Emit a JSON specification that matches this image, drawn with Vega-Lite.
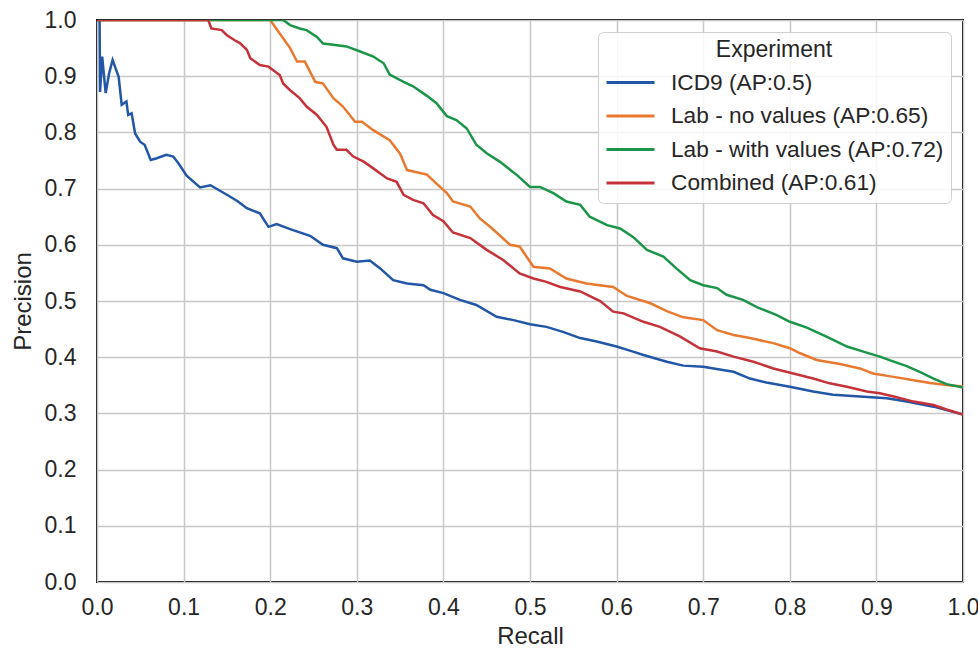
{
  "$schema": "https://vega.github.io/schema/vega-lite/v6.json",
  "width": 866,
  "height": 562,
  "autosize": {"type": "none"},
  "padding": {"left": 97, "top": 20, "right": 15, "bottom": 71},
  "background": "white",
  "config": {
    "font": "Liberation Sans",
    "view": {"stroke": "black", "strokeWidth": 2},
    "axis": {
      "domain": false,
      "ticks": false,
      "grid": true,
      "gridColor": "#c8c8c8",
      "gridWidth": 1.5,
      "labelFont": "Liberation Sans",
      "labelFontSize": 23,
      "labelColor": "#262626",
      "titleFont": "Liberation Sans",
      "titleFontSize": 24,
      "titleFontWeight": "normal",
      "titleColor": "#262626"
    }
  },
  "datasets": {
    "blue": [
      {"r":0,"p":1.0},{"r":0.003,"p":1.0},{"r":0.0035,"p":0.872},{"r":0.006,"p":0.935},{"r":0.010,"p":0.87},{"r":0.014,"p":0.905},{"r":0.018,"p":0.929},{"r":0.025,"p":0.899},{"r":0.0285,"p":0.849},{"r":0.034,"p":0.855},{"r":0.036,"p":0.831},{"r":0.040,"p":0.834},{"r":0.044,"p":0.798},{"r":0.050,"p":0.783},{"r":0.055,"p":0.778},{"r":0.062,"p":0.751},{"r":0.069,"p":0.754},{"r":0.080,"p":0.760},{"r":0.088,"p":0.757},{"r":0.094,"p":0.745},{"r":0.1035,"p":0.723},{"r":0.119,"p":0.702},{"r":0.131,"p":0.706},{"r":0.150,"p":0.689},{"r":0.162,"p":0.678},{"r":0.173,"p":0.665},{"r":0.188,"p":0.656},{"r":0.198,"p":0.632},{"r":0.2075,"p":0.637},{"r":0.223,"p":0.628},{"r":0.246,"p":0.616},{"r":0.261,"p":0.600},{"r":0.277,"p":0.594},{"r":0.284,"p":0.576},{"r":0.300,"p":0.570},{"r":0.315,"p":0.572},{"r":0.327,"p":0.558},{"r":0.342,"p":0.537},{"r":0.358,"p":0.531},{"r":0.377,"p":0.528},{"r":0.385,"p":0.520},{"r":0.400,"p":0.514},{"r":0.419,"p":0.502},{"r":0.438,"p":0.493},{"r":0.4615,"p":0.472},{"r":0.481,"p":0.466},{"r":0.500,"p":0.4585},{"r":0.519,"p":0.454},{"r":0.538,"p":0.445},{"r":0.558,"p":0.434},{"r":0.577,"p":0.428},{"r":0.600,"p":0.419},{"r":0.619,"p":0.410},{"r":0.631,"p":0.404},{"r":0.658,"p":0.392},{"r":0.677,"p":0.385},{"r":0.700,"p":0.383},{"r":0.719,"p":0.378},{"r":0.735,"p":0.374},{"r":0.754,"p":0.362},{"r":0.773,"p":0.355},{"r":0.800,"p":0.3475},{"r":0.827,"p":0.339},{"r":0.850,"p":0.333},{"r":0.881,"p":0.330},{"r":0.912,"p":0.327},{"r":0.935,"p":0.321},{"r":0.966,"p":0.312},{"r":1.0,"p":0.298}
    ],
    "orange": [
      {"r":0,"p":1},{"r":0.2,"p":1},{"r":0.211,"p":0.976},{"r":0.223,"p":0.950},{"r":0.231,"p":0.926},{"r":0.240,"p":0.926},{"r":0.252,"p":0.890},{"r":0.261,"p":0.887},{"r":0.273,"p":0.861},{"r":0.284,"p":0.846},{"r":0.298,"p":0.819},{"r":0.306,"p":0.819},{"r":0.319,"p":0.804},{"r":0.338,"p":0.786},{"r":0.350,"p":0.762},{"r":0.358,"p":0.733},{"r":0.381,"p":0.725},{"r":0.392,"p":0.709},{"r":0.404,"p":0.692},{"r":0.411,"p":0.677},{"r":0.431,"p":0.668},{"r":0.442,"p":0.647},{"r":0.454,"p":0.632},{"r":0.477,"p":0.600},{"r":0.488,"p":0.597},{"r":0.504,"p":0.561},{"r":0.523,"p":0.558},{"r":0.542,"p":0.540},{"r":0.565,"p":0.531},{"r":0.596,"p":0.525},{"r":0.612,"p":0.509},{"r":0.639,"p":0.496},{"r":0.658,"p":0.482},{"r":0.677,"p":0.471},{"r":0.700,"p":0.466},{"r":0.716,"p":0.448},{"r":0.735,"p":0.4395},{"r":0.754,"p":0.434},{"r":0.781,"p":0.425},{"r":0.800,"p":0.416},{"r":0.812,"p":0.407},{"r":0.831,"p":0.395},{"r":0.858,"p":0.388},{"r":0.881,"p":0.380},{"r":0.896,"p":0.371},{"r":0.920,"p":0.365},{"r":0.943,"p":0.359},{"r":0.962,"p":0.354},{"r":0.981,"p":0.3505},{"r":1.0,"p":0.348}
    ],
    "green": [
      {"r":0,"p":1},{"r":0.215,"p":1},{"r":0.223,"p":0.991},{"r":0.234,"p":0.985},{"r":0.242,"p":0.982},{"r":0.254,"p":0.970},{"r":0.261,"p":0.958},{"r":0.273,"p":0.956},{"r":0.288,"p":0.953},{"r":0.304,"p":0.944},{"r":0.319,"p":0.935},{"r":0.331,"p":0.923},{"r":0.338,"p":0.903},{"r":0.354,"p":0.890},{"r":0.365,"p":0.882},{"r":0.381,"p":0.865},{"r":0.392,"p":0.852},{"r":0.404,"p":0.829},{"r":0.415,"p":0.822},{"r":0.427,"p":0.807},{"r":0.438,"p":0.778},{"r":0.450,"p":0.763},{"r":0.465,"p":0.748},{"r":0.485,"p":0.724},{"r":0.500,"p":0.703},{"r":0.5115,"p":0.703},{"r":0.527,"p":0.692},{"r":0.542,"p":0.677},{"r":0.558,"p":0.671},{"r":0.569,"p":0.650},{"r":0.589,"p":0.635},{"r":0.604,"p":0.629},{"r":0.619,"p":0.614},{"r":0.635,"p":0.591},{"r":0.654,"p":0.579},{"r":0.669,"p":0.558},{"r":0.685,"p":0.537},{"r":0.700,"p":0.528},{"r":0.716,"p":0.523},{"r":0.727,"p":0.511},{"r":0.746,"p":0.502},{"r":0.762,"p":0.489},{"r":0.785,"p":0.475},{"r":0.800,"p":0.463},{"r":0.819,"p":0.453},{"r":0.843,"p":0.436},{"r":0.866,"p":0.419},{"r":0.885,"p":0.410},{"r":0.904,"p":0.401},{"r":0.920,"p":0.392},{"r":0.935,"p":0.384},{"r":0.950,"p":0.374},{"r":0.966,"p":0.362},{"r":0.981,"p":0.352},{"r":1.0,"p":0.346}
    ],
    "red": [
      {"r":0,"p":1},{"r":0.1285,"p":1},{"r":0.132,"p":0.985},{"r":0.144,"p":0.982},{"r":0.150,"p":0.973},{"r":0.159,"p":0.964},{"r":0.165,"p":0.959},{"r":0.173,"p":0.947},{"r":0.177,"p":0.932},{"r":0.188,"p":0.920},{"r":0.198,"p":0.917},{"r":0.211,"p":0.902},{"r":0.215,"p":0.887},{"r":0.223,"p":0.875},{"r":0.234,"p":0.861},{"r":0.242,"p":0.846},{"r":0.254,"p":0.831},{"r":0.265,"p":0.810},{"r":0.273,"p":0.778},{"r":0.277,"p":0.769},{"r":0.288,"p":0.769},{"r":0.296,"p":0.757},{"r":0.308,"p":0.748},{"r":0.319,"p":0.736},{"r":0.335,"p":0.718},{"r":0.346,"p":0.712},{"r":0.354,"p":0.689},{"r":0.365,"p":0.680},{"r":0.377,"p":0.674},{"r":0.388,"p":0.653},{"r":0.400,"p":0.642},{"r":0.411,"p":0.622},{"r":0.431,"p":0.612},{"r":0.450,"p":0.591},{"r":0.469,"p":0.573},{"r":0.488,"p":0.549},{"r":0.504,"p":0.540},{"r":0.519,"p":0.534},{"r":0.535,"p":0.525},{"r":0.558,"p":0.517},{"r":0.581,"p":0.500},{"r":0.596,"p":0.481},{"r":0.608,"p":0.478},{"r":0.631,"p":0.463},{"r":0.650,"p":0.454},{"r":0.673,"p":0.437},{"r":0.696,"p":0.416},{"r":0.716,"p":0.410},{"r":0.735,"p":0.401},{"r":0.758,"p":0.392},{"r":0.781,"p":0.380},{"r":0.804,"p":0.371},{"r":0.827,"p":0.362},{"r":0.846,"p":0.3535},{"r":0.866,"p":0.3475},{"r":0.889,"p":0.339},{"r":0.904,"p":0.336},{"r":0.920,"p":0.330},{"r":0.943,"p":0.321},{"r":0.966,"p":0.315},{"r":0.981,"p":0.307},{"r":1.0,"p":0.298}
    ]
  },
  "layer": [
    {
      "data": {"name": "blue"},
      "transform": [{"calculate": "'ICD9 (AP:0.5)'", "as": "Experiment"}],
      "mark": {"type": "line", "strokeWidth": 2.5, "clip": true},
      "encoding": {
        "x": {"field": "r", "type": "quantitative"},
        "y": {"field": "p", "type": "quantitative"},
        "color": {"field": "Experiment", "type": "nominal"}
      }
    },
    {
      "data": {"name": "orange"},
      "transform": [{"calculate": "'Lab - no values (AP:0.65)'", "as": "Experiment"}],
      "mark": {"type": "line", "strokeWidth": 2.5, "clip": true},
      "encoding": {
        "x": {"field": "r", "type": "quantitative"},
        "y": {"field": "p", "type": "quantitative"},
        "color": {"field": "Experiment", "type": "nominal"}
      }
    },
    {
      "data": {"name": "green"},
      "transform": [{"calculate": "'Lab - with values (AP:0.72)'", "as": "Experiment"}],
      "mark": {"type": "line", "strokeWidth": 2.5, "clip": true},
      "encoding": {
        "x": {"field": "r", "type": "quantitative"},
        "y": {"field": "p", "type": "quantitative"},
        "color": {"field": "Experiment", "type": "nominal"}
      }
    },
    {
      "data": {"name": "red"},
      "transform": [{"calculate": "'Combined (AP:0.61)'", "as": "Experiment"}],
      "mark": {"type": "line", "strokeWidth": 2.5, "clip": true},
      "encoding": {
        "x": {"field": "r", "type": "quantitative", "title": "Recall",
              "scale": {"domain": [0, 1], "nice": false, "zero": false},
              "axis": {"values": [0,0.1,0.2,0.3,0.4,0.5,0.6,0.7,0.8,0.9,1.0], "format": ".1f", "labelPadding": 14, "titlePadding": 5, "labelFlush": false}},
        "y": {"field": "p", "type": "quantitative", "title": "Precision",
              "scale": {"domain": [0, 1], "nice": false, "zero": false},
              "axis": {"values": [0,0.1,0.2,0.3,0.4,0.5,0.6,0.7,0.8,0.9,1.0], "format": ".1f", "labelPadding": 21, "titlePadding": 9, "labelFlush": false}},
        "color": {"field": "Experiment", "type": "nominal",
          "scale": {"domain": ["ICD9 (AP:0.5)", "Lab - no values (AP:0.65)", "Lab - with values (AP:0.72)", "Combined (AP:0.61)"],
                    "range": ["#2157a6", "#e9792f", "#1b9549", "#c5323a"]},
          "legend": {
            "title": "Experiment",
            "orient": "top-right",
            "offset": 12,
            "padding": 7,
            "fillColor": "rgba(255,255,255,0.85)",
            "strokeColor": "#d0d0d0",
            "cornerRadius": 5,
            "titleAnchor": "middle",
            "titleFont": "Liberation Sans",
            "titleFontSize": 23,
            "titleFontWeight": "normal",
            "titleColor": "#262626",
            "titlePadding": 8,
            "labelFont": "Liberation Sans",
            "labelFontSize": 22.7,
            "labelColor": "#262626",
            "labelOffset": 15,
            "labelLimit": 400,
            "symbolType": "stroke",
            "symbolSize": 2304,
            "symbolStrokeWidth": 3,
            "clipHeight": 25,
            "rowPadding": 8.5
          }
        }
      }
    }
  ]
}
